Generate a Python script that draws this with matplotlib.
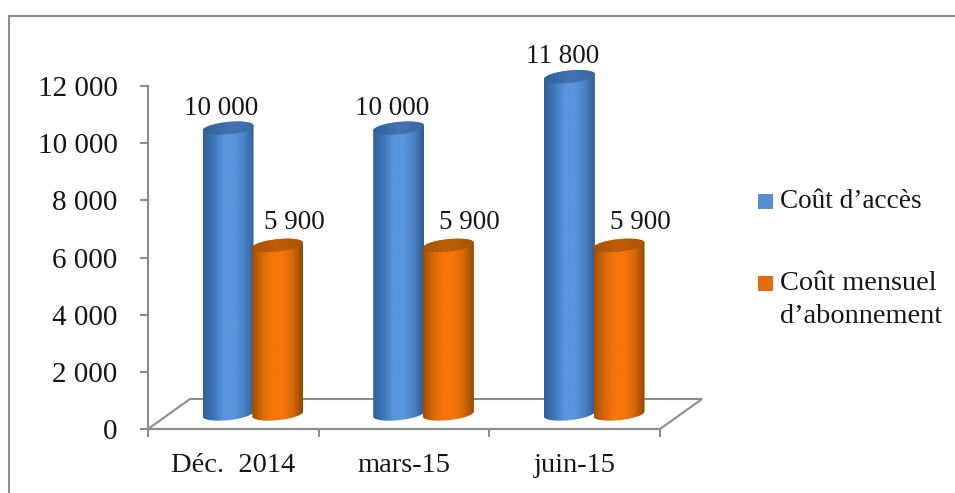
"""Cost chart with fake-3D cylinders, Excel style."""

import matplotlib
matplotlib.use("Agg")
import matplotlib.pyplot as plt
import numpy as np
from matplotlib.colors import LinearSegmentedColormap
from matplotlib.patches import PathPatch, Polygon, Rectangle
from matplotlib.path import Path

plt.rcParams["font.family"] = ["Liberation Serif", "DejaVu Serif"]

categories = ["Déc.  2014", "mars-15", "juin-15"]
cout_acces = [10000, 10000, 11800]
cout_abonnement = [5900, 5900, 5900]
value_labels_acces = ["10 000", "10 000", "11 800"]
value_labels_abonnement = ["5 900", "5 900", "5 900"]
y_ticks = [0, 2000, 4000, 6000, 8000, 10000, 12000]
y_tick_labels = ["0", "2 000", "4 000", "6 000", "8 000", "10 000", "12 000"]
legend_labels = ["Coût d’accès", "Coût mensuel\nd’abonnement"]

W, H = 955, 493
GREY = "#8c8c8c"
TEXT = "#161616"

blue_cmap = LinearSegmentedColormap.from_list(
    "blue", ["#2f5f98", "#3f76b8", "#5a95df", "#5a95df", "#4a82c6", "#2f5d94"])
orange_cmap = LinearSegmentedColormap.from_list(
    "orange", ["#a04f04", "#d86808", "#f5760c", "#f5760c", "#d66707", "#924903"])
blue_top = LinearSegmentedColormap.from_list("bt", ["#2f5f98", "#4274b2", "#3a6aa5"])
orange_top = LinearSegmentedColormap.from_list("ot", ["#a85404", "#bd5e06", "#a85404"])

fig = plt.figure(figsize=(W / 100, H / 100), dpi=100, facecolor="white")

# outer frame, cut by the image bottom
fig.add_artist(Rectangle((9 / W, -0.02), 990 / W, 1.02 - 16 / H, transform=fig.transFigure,
                         fill=False, edgecolor=GREY, linewidth=1.5))

left, right, y0_px, y12_px = 148, 660, 429, 86
ax = fig.add_axes([left / W, 1 - y0_px / H, (right - left) / W, (y0_px - y12_px) / H])
ax.set_xlim(0, 3)
ax.set_ylim(0, 12000)
ax.patch.set_visible(False)
for side in ("top", "right"):
    ax.spines[side].set_visible(False)
for side in ("left", "bottom"):
    ax.spines[side].set_color(GREY)
    ax.spines[side].set_linewidth(1.5)

# data units per pixel, used for the fake depth
ux = 3 / (right - left)
uy = 12000 / (y0_px - y12_px)

# floor
floor_dx, floor_dy = 42 * ux, 30 * uy
ax.add_patch(Polygon([(0, 0), (floor_dx, floor_dy), (3 + floor_dx, floor_dy), (3, 0)],
                     closed=True, fill=False, edgecolor=GREY, linewidth=1.5,
                     clip_on=False, zorder=1))

ax.set_xticks([0, 1, 2, 3])
ax.set_xticklabels([])
ax.tick_params(axis="x", length=6, width=1.5, color=GREY)
ax.set_yticks(y_ticks)
ax.set_yticklabels(y_tick_labels, fontsize=21, color=TEXT)
ax.tick_params(axis="y", length=6, width=1.5, color=GREY, pad=16)

for i, label in enumerate(categories):
    ax.text(i + 0.5, -37 * uy, label, ha="center", va="center", fontsize=20.5,
            color=TEXT, clip_on=False)

BAR_W = 51 * ux
BASE = 15 * uy
RY = 6.2 * uy
TILT = 2.5 * uy  # the ellipses rise a little to the right
CENTERS = [0.469, 0.760]
T = np.linspace(0, 2 * np.pi, 73)


def rim(xc, yc, t):
    return np.column_stack([xc + BAR_W / 2 * np.cos(t), yc + RY * np.sin(t) + TILT * np.cos(t)])


def cylinder(xc, value, cmap, top_cmap, z):
    x0, x1 = xc - BAR_W / 2, xc + BAR_W / 2
    ytop = value + BASE
    outline = np.vstack([rim(xc, BASE, T[36:73]), rim(xc, ytop, T[0:37])])
    body = PathPatch(Path(outline), facecolor="none", edgecolor="none", zorder=z, clip_on=False)
    ax.add_patch(body)
    grad = np.linspace(0, 1, 128).reshape(1, -1)
    im = ax.imshow(grad, cmap=cmap, aspect="auto", extent=(x0, x1, 0, ytop + 2 * RY), zorder=z,
                   interpolation="bilinear")
    im.set_clip_box(fig.bbox)
    im.set_clip_path(body)
    lid = PathPatch(Path(rim(xc, ytop, T)), facecolor="none", edgecolor="none",
                    zorder=z + 0.1, clip_on=False)
    ax.add_patch(lid)
    im2 = ax.imshow(grad, cmap=top_cmap, aspect="auto", zorder=z + 0.1, interpolation="bilinear",
                    extent=(x0, x1, ytop - 2 * RY, ytop + 2 * RY))
    im2.set_clip_box(fig.bbox)
    im2.set_clip_path(lid)


for i in range(len(categories)):
    cylinder(i + CENTERS[0], cout_acces[i], blue_cmap, blue_top, 3)
    cylinder(i + CENTERS[1], cout_abonnement[i], orange_cmap, orange_top, 4)

ax.set_xlim(0, 3)
ax.set_ylim(0, 12000)

# data labels sit above the lids, offset by hand like the original
acces_label_dx = [-7, -7, -7]
abo_label_dx = [17, 21, 21]
for i in range(len(categories)):
    ax.annotate(value_labels_acces[i], (i + CENTERS[0], cout_acces[i] + BASE),
                xytext=(acces_label_dx[i] * 0.72, 20 * 0.72), textcoords="offset points",
                ha="center", va="center", fontsize=19.5, color=TEXT, annotation_clip=False)
    ax.annotate(value_labels_abonnement[i], (i + CENTERS[1], cout_abonnement[i] + BASE),
                xytext=(abo_label_dx[i] * 0.72, 23 * 0.72), textcoords="offset points",
                ha="center", va="center", fontsize=19.5, color=TEXT, annotation_clip=False)

# legend
fig.add_artist(Rectangle((758 / W, 1 - 209 / H), 15 / W, 15 / H, transform=fig.transFigure,
                         facecolor="#558ed5", edgecolor="none"))
fig.add_artist(Rectangle((758 / W, 1 - 291 / H), 15 / W, 15 / H, transform=fig.transFigure,
                         facecolor="#e46c0a", edgecolor="none"))
fig.text(780 / W, 1 - 201 / H, legend_labels[0], fontsize=19.6, va="center", color=TEXT)
fig.text(780 / W, 1 - 300 / H, legend_labels[1], fontsize=20.4, va="center", color=TEXT,
         linespacing=1.42)

fig.savefig("out.png", dpi=100, facecolor="white")
